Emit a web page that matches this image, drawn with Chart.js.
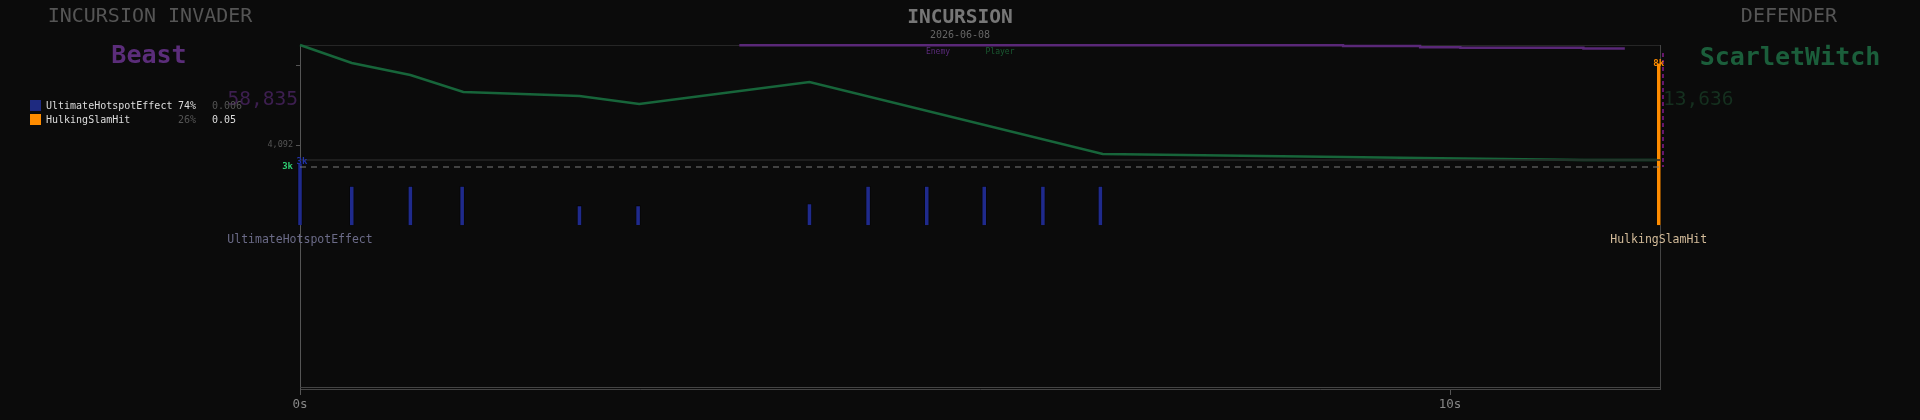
<!DOCTYPE html>
<html>
<head>
<meta charset="utf-8">
<script src="https://cdn.jsdelivr.net/npm/chart.js@4.4.1/dist/chart.umd.min.js"></script>
<style>
  body { margin: 0; background: #0b0b0b; }
  #wrap { position: relative; width: 1920px; height: 420px; overflow: hidden; font-family: 'DejaVu Sans Mono', monospace; }
  #wrap canvas { position: absolute; left: 0; top: 0; }
  .t { position: absolute; white-space: pre; line-height: 1; }
  .c { transform: translate(-50%, -50%); }
  .l { transform: translate(0, -50%); }
  .r { transform: translate(-100%, -50%); }
  .sq { position: absolute; width: 11px; height: 11px; }
</style>
</head>
<body>
<div id="wrap">
  <canvas id="chart" width="1920" height="420"></canvas>

  <div class="t c" style="left:150px;top:15px;font-size:20px;color:#555;">INCURSION INVADER</div>
  <div class="t c" style="left:149px;top:54px;font-size:25px;font-weight:bold;color:#5b2d7a;">Beast</div>
  <div class="t r" style="left:298px;top:99px;font-size:19.5px;color:#3d1f50;">58,835</div>

  <div class="sq" style="left:30px;top:100px;background:#1e2a80;"></div>
  <div class="t l" style="left:46px;top:106px;font-size:10px;color:#ddd;">UltimateHotspotEffect</div>
  <div class="t l" style="left:178px;top:106px;font-size:10px;color:#ddd;">74%</div>
  <div class="t l" style="left:212px;top:106px;font-size:10px;color:#555;">0.006</div>
  <div class="sq" style="left:30px;top:114px;background:#ff8c00;"></div>
  <div class="t l" style="left:46px;top:120px;font-size:10px;color:#ddd;">HulkingSlamHit</div>
  <div class="t l" style="left:178px;top:120px;font-size:10px;color:#555;">26%</div>
  <div class="t l" style="left:212px;top:120px;font-size:10px;color:#ddd;">0.05</div>

  <div class="t c" style="left:960px;top:17px;font-size:19.5px;font-weight:bold;color:#777;">INCURSION</div>
  <div class="t c" style="left:960px;top:35px;font-size:10px;color:#666;">2026-06-08</div>
  <div class="t c" style="left:938px;top:52px;font-size:8px;color:#5a2a7a;">Enemy</div>
  <div class="t c" style="left:1000px;top:52px;font-size:8px;color:#1a5a32;">Player</div>

  <div class="t c" style="left:1789px;top:15px;font-size:20px;color:#555;">DEFENDER</div>
  <div class="t c" style="left:1790px;top:56px;font-size:25px;font-weight:bold;color:#1b5e3b;">ScarletWitch</div>
  <div class="t l" style="left:1663px;top:99px;font-size:19.5px;color:#15301f;">13,636</div>
</div>

<script>
// timeline data (seconds / hp / damage)
const X_TICKS = [0, 10];
const HP_TICKS = [11727, 4092];
const HP_TICK_LABELS = ["", "4,092"];

const PLAYER_T = [0, 0.45, 0.96, 1.42, 1.68, 1.93, 2.19, 2.43, 2.95, 4.43, 6.98, 7.68, 8.36, 9.07, 9.74, 10.47, 11.16, 11.8];
const PLAYER_HP = [13636, 11918, 10773, 9150, 9055, 8960, 8864, 8769, 8005, 10105, 3233, 3138, 3042, 2947, 2851, 2756, 2661, 2661];

const ENEMY_T = [3.82, 9.07, 9.74, 10.09, 11.16, 11.52];
const ENEMY_HP = [58775, 58535, 58145, 57995, 57785, 57785];

const HOTSPOT_T = [0, 0.45, 0.96, 1.41, 2.43, 2.94, 4.43, 4.94, 5.45, 5.95, 6.46, 6.96];
const HOTSPOT_DMG = [3200, 2000, 2000, 2000, 1000, 1000, 1100, 2000, 2000, 2000, 2000, 2000];
const HOTSPOT_NAME = "UltimateHotspotEffect";

const SLAM_T = [11.815];
const SLAM_DMG = [8380];
const SLAM_NAME = "HulkingSlamHit";

const THRESHOLD = 3000;
const PANE_SPLIT = 3363;
const MARKER_T = 11.852;
const MARKER_TOP = 8900;
const X_MAX = 11.826;

const fmtK = (v) => Math.round(v / 1000) + "k";
const pts = (xs, ys) => xs.map((x, i) => ({ x: x, y: ys[i] }));

const annotations = {
  id: "annotations",
  beforeDatasetsDraw(chart) {
    const { ctx, chartArea: a } = chart;
    ctx.save();
    ctx.lineWidth = 1;
    ctx.strokeStyle = "#262626";
    ctx.beginPath();
    ctx.moveTo(a.left, a.top + 0.5);
    ctx.lineTo(a.right, a.top + 0.5);
    ctx.stroke();
    ctx.strokeStyle = "#444";
    ctx.beginPath();
    ctx.moveTo(a.right + 0.5, a.top);
    ctx.lineTo(a.right + 0.5, a.bottom);
    ctx.moveTo(a.left, a.bottom - 1.5);
    ctx.lineTo(a.right, a.bottom - 1.5);
    ctx.stroke();
    ctx.restore();
  },
  afterDatasetsDraw(chart) {
    const { ctx, chartArea: a } = chart;
    const dmg = chart.scales.dmg;
    ctx.save();
    ctx.textAlign = "right";
    ctx.textBaseline = "middle";
    ctx.font = "bold 9px 'DejaVu Sans Mono'";
    ctx.fillStyle = "#2ecc71";
    ctx.fillText(fmtK(THRESHOLD), a.left - 7, dmg.getPixelForValue(THRESHOLD));

    const hot = chart.getDatasetMeta(4).data;
    const slam = chart.getDatasetMeta(5).data;
    ctx.textAlign = "center";
    ctx.fillStyle = "#2233aa";
    ctx.fillText(fmtK(HOTSPOT_DMG[0]), hot[0].x + 2, hot[0].y - 1);
    ctx.fillStyle = "#ff8c00";
    ctx.fillText(fmtK(SLAM_DMG[0]), slam[0].x, slam[0].y + 1);

    ctx.font = "11.5px 'DejaVu Sans Mono'";
    const labelY = dmg.getPixelForValue(0) + 15;
    ctx.fillStyle = "#6b6b88";
    ctx.fillText(HOTSPOT_NAME, hot[0].x, labelY);
    ctx.fillStyle = "#d4bc9a";
    ctx.fillText(SLAM_NAME, slam[0].x, labelY);
    ctx.restore();
  }
};

Chart.defaults.font.family = "'DejaVu Sans Mono', monospace";

new Chart(document.getElementById("chart"), {
  type: "line",
  data: {
    datasets: [
      {
        yAxisID: "dmg",
        data: [{ x: 0, y: PANE_SPLIT }, { x: X_MAX, y: PANE_SPLIT }],
        borderColor: "#262626",
        borderWidth: 1.5,
        pointRadius: 0
      },
      {
        yAxisID: "dmg",
        data: [{ x: 0, y: THRESHOLD }, { x: X_MAX, y: THRESHOLD }],
        borderColor: "#7a7a7a",
        borderWidth: 1.2,
        borderDash: [6, 5],
        pointRadius: 0
      },
      {
        yAxisID: "hp",
        data: pts(PLAYER_T, PLAYER_HP),
        borderColor: "#17653a",
        borderWidth: 2.5,
        pointRadius: 0,
        clip: false
      },
      {
        yAxisID: "enemy",
        data: pts(ENEMY_T, ENEMY_HP),
        borderColor: "#5a2878",
        borderWidth: 2.4,
        stepped: true,
        pointRadius: 0,
        clip: false
      },
      {
        type: "bar",
        yAxisID: "dmg",
        data: pts(HOTSPOT_T, HOTSPOT_DMG),
        backgroundColor: "#1f2a8c",
        borderColor: "#050505",
        borderWidth: 0.8,
        barThickness: 4.5,
        grouped: false,
        clip: false
      },
      {
        type: "bar",
        yAxisID: "dmg",
        data: pts(SLAM_T, SLAM_DMG),
        backgroundColor: "#ff8c00",
        borderColor: "#050505",
        borderWidth: 0.8,
        barThickness: 4.5,
        grouped: false,
        clip: false
      },
      {
        yAxisID: "dmg",
        data: [{ x: MARKER_T, y: MARKER_TOP }, { x: MARKER_T, y: THRESHOLD }],
        borderColor: "#9a1fa0",
        borderWidth: 1.3,
        borderDash: [4, 3],
        pointRadius: 0,
        clip: false
      }
    ]
  },
  options: {
    responsive: false,
    animation: false,
    layout: { padding: { left: 260, right: 260, top: 45, bottom: 0 } },
    plugins: { legend: { display: false }, tooltip: { enabled: false } },
    scales: {
      x: {
        type: "linear",
        min: 0,
        max: X_MAX,
        offset: false,
        afterBuildTicks: (s) => { s.ticks = X_TICKS.map((v) => ({ value: v })); },
        afterFit: (s) => { s.height = 31; },
        ticks: { color: "#888", font: { size: 12.5 }, padding: 2, callback: (v) => v + "s" },
        grid: { offset: false, drawOnChartArea: false, color: "#555", tickLength: 6 },
        border: { color: "#444" }
      },
      hp: {
        position: "left",
        min: -19195,
        max: 13636,
        afterBuildTicks: (s) => { s.ticks = HP_TICKS.map((v) => ({ value: v })); },
        afterFit: (s) => { s.width = 40; },
        ticks: { color: "#555", font: { size: 8.5 }, padding: 3, callback: (v, i) => HP_TICK_LABELS[i] },
        grid: { drawOnChartArea: false, color: "#555", tickLength: 4 },
        border: { color: "#555" }
      },
      dmg: { display: false, min: -8484, max: 9312 },
      enemy: { display: false, min: -44365, max: 58835 }
    }
  },
  plugins: [annotations]
});
</script>
</body>
</html>
